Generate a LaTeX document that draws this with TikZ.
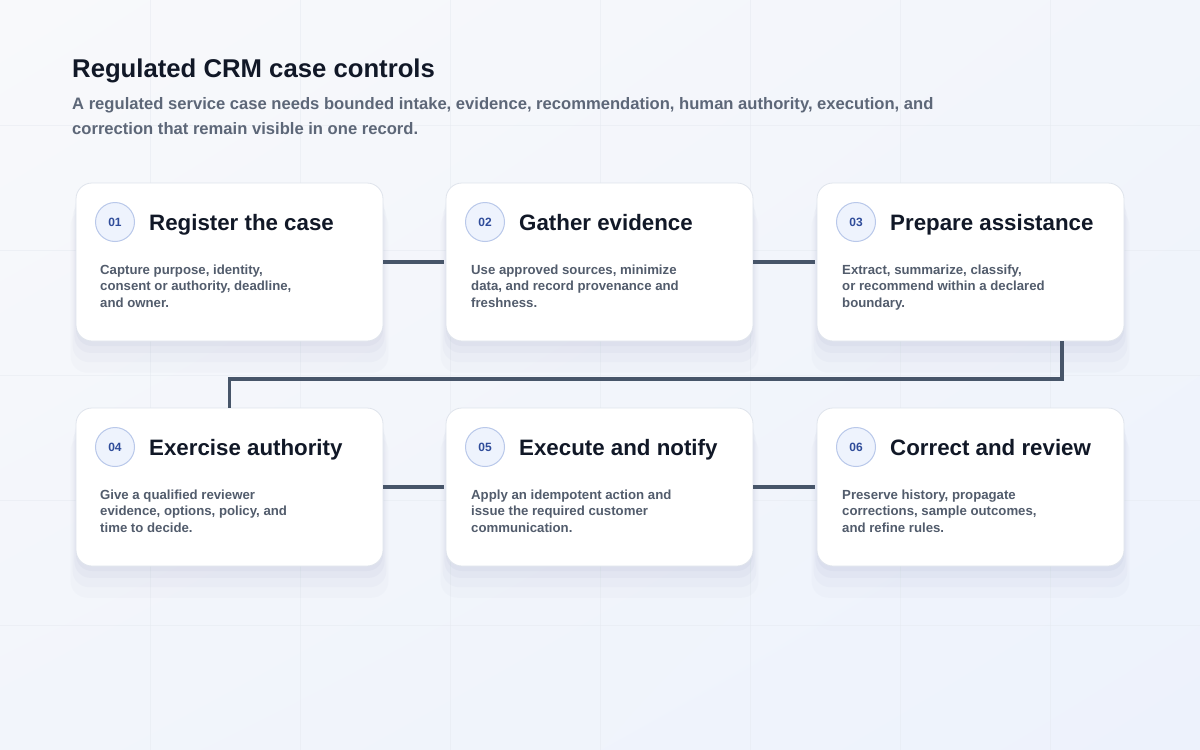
\documentclass[tikz,border=0pt]{standalone}
\usepackage{fontspec}
\setmainfont{Liberation Sans}
\usetikzlibrary{shadows,shadings}

\definecolor{bgA}{HTML}{F8F9FB}
\definecolor{bgB}{HTML}{EDF2FC}
\definecolor{bgC}{HTML}{F2F5FB}
\definecolor{gridc}{HTML}{E6EAF1}
\definecolor{cardline}{HTML}{DFE4EC}
\definecolor{shadowc}{HTML}{7F8FB5}
\definecolor{linkc}{HTML}{475569}
\definecolor{badgefill}{HTML}{EEF3FD}
\definecolor{badgeline}{HTML}{B9C8EA}
\definecolor{badgetext}{HTML}{2F4C9A}
\definecolor{titlec}{HTML}{111827}
\definecolor{bodyc}{HTML}{525C6C}
\definecolor{subc}{HTML}{5D6778}

\tikzset{
  card/.style={draw=cardline, line width=0.8pt, fill=white, rounded corners=16pt,
    minimum width=307pt, minimum height=158pt, outer sep=0pt,
    general shadow={draw=none, fill=shadowc, opacity=0.03, shadow yshift=-28pt, shadow scale=1.035},
    general shadow={draw=none, fill=shadowc, opacity=0.045, shadow yshift=-19pt, shadow scale=1.022},
    general shadow={draw=none, fill=shadowc, opacity=0.055, shadow yshift=-11pt, shadow scale=1.01},
    general shadow={draw=none, fill=shadowc, opacity=0.06, shadow yshift=-5pt}},
  badge/.style={circle, draw=badgeline, line width=1pt, fill=badgefill, minimum size=39pt,
    inner sep=0pt, text=badgetext, font=\fontsize{12}{12}\selectfont\bfseries},
  cardtitle/.style={anchor=base west, inner sep=0pt, text=titlec, font=\fontsize{22.3}{26}\selectfont\bfseries},
  cardbody/.style={anchor=base west, inner sep=0pt, align=left, text=bodyc, font=\fontsize{13.2}{16.5}\selectfont\bfseries},
  link/.style={draw=linkc, line width=3.5pt}
}

\begin{document}
\begin{tikzpicture}[x=1pt,y=-1pt]
\shade[upper left=bgA, upper right=bgC, lower left=bgC, lower right=bgB] (0,0) rectangle (1200,750);
\useasboundingbox (0,0) rectangle (1200,750);
\foreach \x in {150,300,...,1050} \draw[gridc, opacity=0.5, line width=0.8pt] (\x,0) -- (\x,750);
\foreach \y in {125,250,...,625} \draw[gridc, opacity=0.5, line width=0.8pt] (0,\y) -- (1200,\y);

% heading (base of a multi-line node = its last line)
\node[anchor=base west, inner sep=0pt, text=titlec, font=\fontsize{25.7}{30}\selectfont\bfseries] (head) at (72,77) {Regulated CRM case controls};
\node[anchor=base west, inner sep=0pt, align=left, text=subc, font=\fontsize{16.6}{24.5}\selectfont\bfseries] (sub) at (72,134)
  {A regulated service case needs bounded intake, evidence, recommendation, human authority, execution, and\\correction that remain visible in one record.};

% cards
\node[card] (1) at (229.5,262) {};
\node[card] (2) at (599.5,262) {};
\node[card] (3) at (970.5,262) {};
\node[card] (4) at (229.5,487) {};
\node[card] (5) at (599.5,487) {};
\node[card] (6) at (970.5,487) {};

\node[badge] (1a) at (115,222) {01};
\node[badge] (2a) at (485,222) {02};
\node[badge] (3a) at (856,222) {03};
\node[badge] (4a) at (115,447) {04};
\node[badge] (5a) at (485,447) {05};
\node[badge] (6a) at (856,447) {06};

\node[cardtitle] (1t) at (149,230) {Register the case};
\node[cardtitle] (2t) at (519,230) {Gather evidence};
\node[cardtitle] (3t) at (890,230) {Prepare assistance};
\node[cardtitle] (4t) at (149,455) {Exercise authority};
\node[cardtitle] (5t) at (519,455) {Execute and notify};
\node[cardtitle] (6t) at (890,455) {Correct and review};

\node[cardbody] (1b) at (100,307) {Capture purpose, identity,\\consent or authority, deadline,\\and owner.};
\node[cardbody] (2b) at (471,307) {Use approved sources, minimize\\data, and record provenance and\\freshness.};
\node[cardbody] (3b) at (842,307) {Extract, summarize, classify,\\or recommend within a declared\\boundary.};
\node[cardbody] (4b) at (100,532) {Give a qualified reviewer\\evidence, options, policy, and\\time to decide.};
\node[cardbody] (5b) at (471,532) {Apply an idempotent action and\\issue the required customer\\communication.};
\node[cardbody] (6b) at (842,532) {Preserve history, propagate\\corrections, sample outcomes,\\and refine rules.};

% links
\coordinate (k) at (1062,379);
\path[link, shorten >=2pt] (1) -- (2);
\path[link, shorten >=2pt] (2) -- (3);
\path[link] (k |- 3.south) -- (k) -| (4.north);
\path[link, shorten >=2pt] (4) -- (5);
\path[link, shorten >=2pt] (5) -- (6);
\end{tikzpicture}
\end{document}
